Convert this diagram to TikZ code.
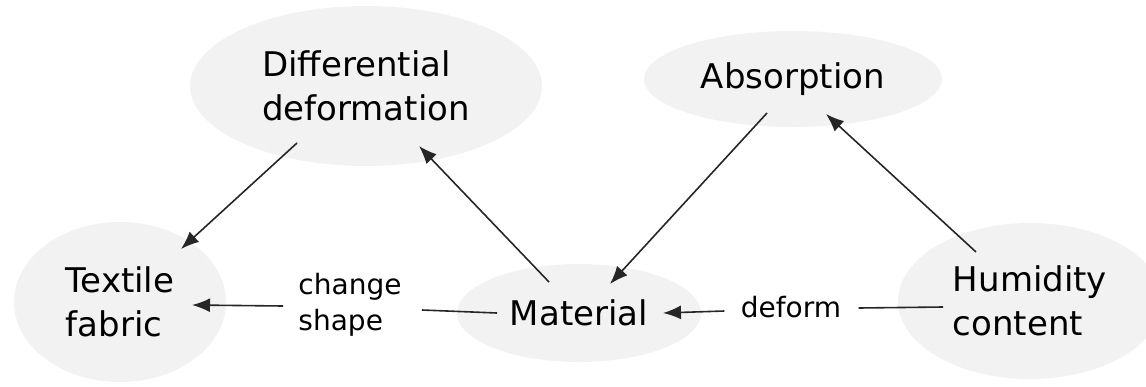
\documentclass[tikz,border=0pt]{standalone}
\usepackage{fontspec}
\setmainfont{DejaVu Sans}
\usetikzlibrary{shapes.geometric,arrows.meta,calc}
\definecolor{bubble}{HTML}{F2F2F2}
\begin{document}
\begin{tikzpicture}[x=0.5pt,y=-0.5pt,
  bubble/.style={ellipse,fill=bubble,draw=none,inner sep=0pt,align=left,
    font=\fontsize{17pt}{22pt}\selectfont},
  edgelabel/.style={inner sep=0pt,align=left,font=\fontsize{14pt}{18pt}\selectfont},
  link/.style={draw=black!85,line width=0.8pt},
  arrow/.style={link,-{Latex[length=9pt,width=7pt]}}]
\useasboundingbox (0,0) rectangle (1146,386);
\clip (0,0) rectangle (1146,386);

% concept bubbles
\node[bubble,minimum width=176pt,minimum height=80pt] (diff) at (366,86) {Differential\\deformation};
\node[bubble,minimum width=149pt,minimum height=48pt] (abs) at (793,79) {Absorption};
\node[bubble,minimum width=106pt,minimum height=80pt] (tex) at (120,302) {Textile\\fabric};
\node[bubble,minimum width=122pt,minimum height=49pt] (mat) at (579,313) {Material};
\node[bubble,minimum width=132pt,minimum height=78pt] (hum) at (1030,301) {Humidity\\content};

% edge labels
\node[edgelabel] (cs) at (350,305) {change\\shape};
\node[edgelabel] (df) at (791,307) {deform};

% diagonal links
\draw[arrow] ($(diff)+(-69,57)$) -- ($(tex)+(61,-53)$);
\draw[arrow] ($(mat)+(-30,-31)$) -- ($(diff)+(53,60)$);
\draw[arrow] ($(abs)+(-26,34)$) -- ($(mat)+(31,-29)$);
\draw[arrow] ($(hum)+(-54,-49)$) -- ($(abs)+(33,35)$);

% labelled horizontal links
\draw[link] ($(mat)+(-82,0)$) -- ($(cs.east)+(20,5)$);
\draw[arrow] ($(cs.west)+(-15,1)$) -- ($(tex)+(72,3)$);
\draw[link] ($(hum)+(-87,6)$) -- ($(df.east)+(17,1)$);
\draw[arrow] ($(df.west)+(-16,4)$) -- ($(mat)+(84,0)$);
\end{tikzpicture}
\end{document}
